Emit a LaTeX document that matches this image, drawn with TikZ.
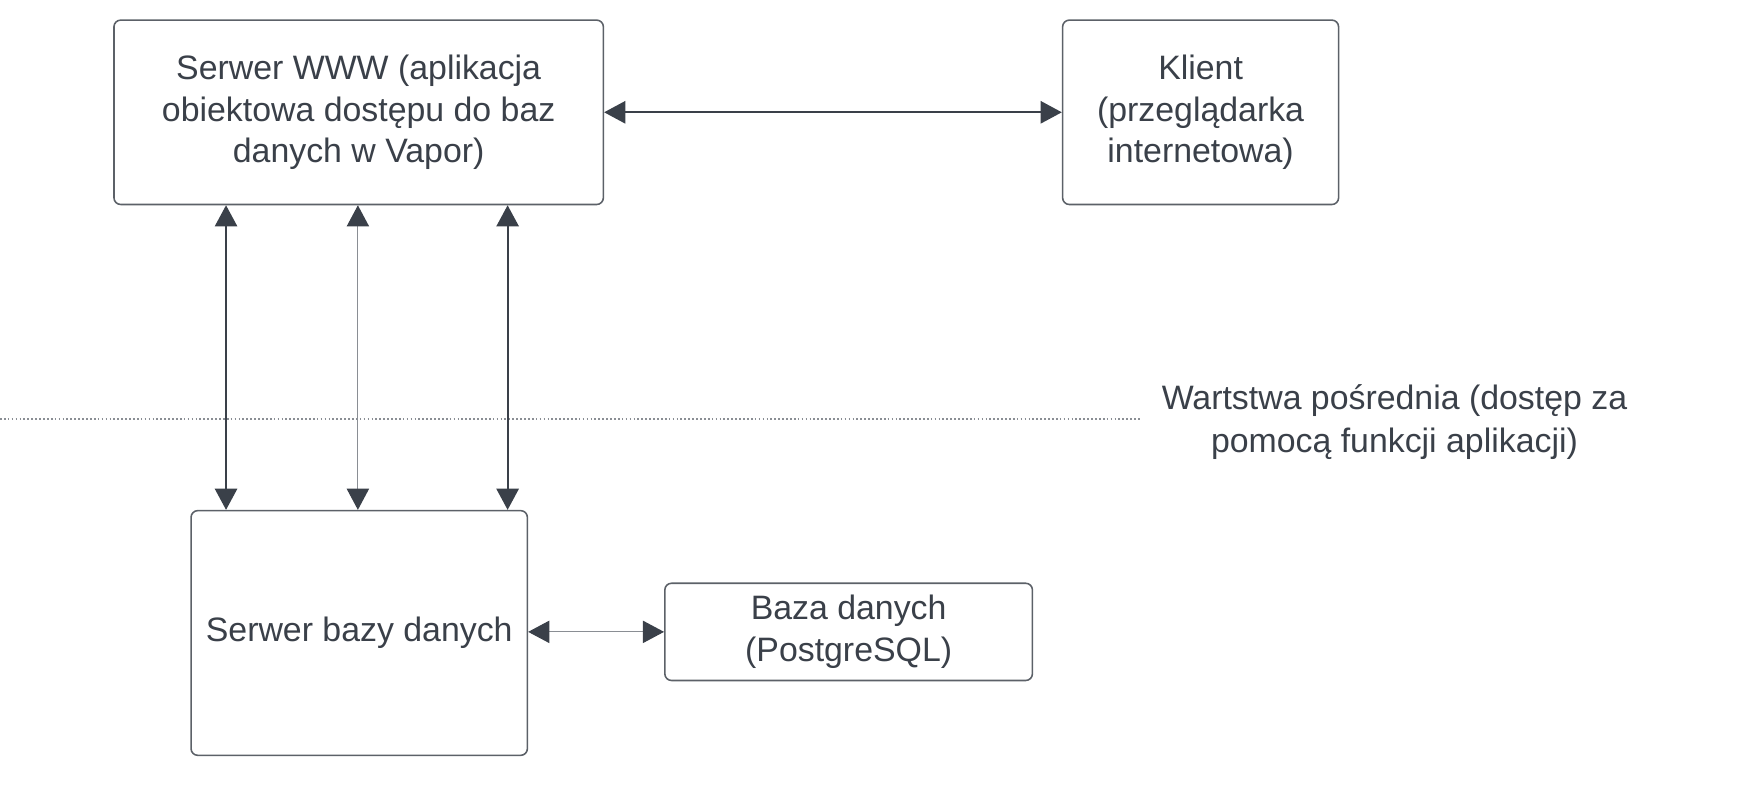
\documentclass[tikz,border=0pt]{standalone}
\usepackage{fontspec}
\setmainfont{Liberation Sans}
\usetikzlibrary{arrows.meta}
\definecolor{ink}{HTML}{3A4049}
\definecolor{frame}{HTML}{5C6168}
\definecolor{light}{HTML}{8A8E94}
\begin{document}
\begin{tikzpicture}[x=1pt,y=-1pt,
  box/.style={draw=frame, line width=1.4pt, rounded corners=6pt, inner sep=0pt,
    align=center, text=ink, font=\fontsize{30.3}{37.5}\selectfont},
  arr/.style={draw=ink, line width=1.7pt, {Triangle[length=19pt,width=20pt]}-{Triangle[length=19pt,width=20pt]}},
  arrl/.style={draw=light, line width=1pt, {Triangle[length=19pt,width=20pt,fill=ink,color=ink]}-{Triangle[length=19pt,width=20pt,fill=ink,color=ink]}},
  lbl/.style={align=center, text=ink, inner sep=0pt, font=\fontsize{30.3}{38.5}\selectfont}]
\useasboundingbox (0,0) rectangle (1568,707);
\fill[white] (0,0) rectangle (1568,707);

\node[box, minimum width=438pt, minimum height=165pt] (www) at (321,100.5)
  {Serwer WWW (aplikacja\\obiektowa dostępu do baz\\danych w Vapor)};
\node[box, minimum width=247pt, minimum height=165pt] (klient) at (1074.5,100.5)
  {Klient\\(przeglądarka\\internetowa)};
\node[box, minimum width=301pt, minimum height=219pt] (sbd) at (321.5,566.5)
  {Serwer bazy danych};
\node[box, minimum width=329pt, minimum height=87pt] (bd) at (759.5,565.5)
  {Baza danych\\(PostgreSQL)};
\node[lbl] (warstwa) at (1248,377.5)
  {Wartstwa pośrednia (dostęp za\\pomocą funkcji aplikacji)};

\coordinate (dl) at (0,375);
\coordinate (dr) at (1020,375);
\draw[light, line width=1.2pt, dash pattern=on 1.5pt off 2pt] (dl) -- (dr);

\draw[arr] (www.east) -- (klient.west);
\draw[arr] ([xshift=101pt]www.south west) -- ([xshift=32pt]sbd.north west);
\draw[arrl] ([xshift=219pt]www.south west) -- ([xshift=150pt]sbd.north west);
\draw[arr] ([xshift=353pt]www.south west) -- ([xshift=284pt]sbd.north west);
\draw[arrl] (sbd.east |- bd.west) -- (bd.west);
\end{tikzpicture}
\end{document}
